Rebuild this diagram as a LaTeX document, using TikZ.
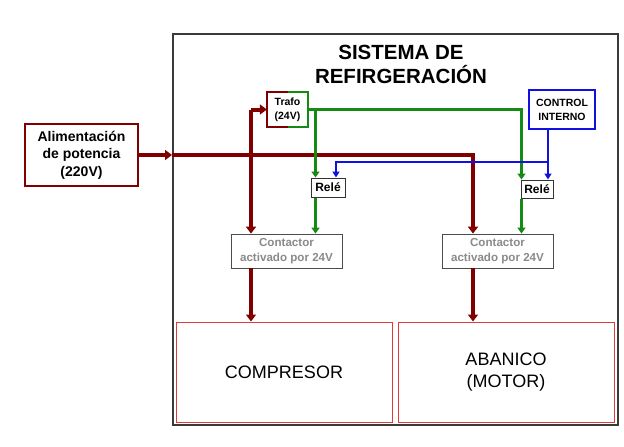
\documentclass[tikz,border=0pt]{standalone}
\usepackage{fontspec}
\setmainfont{Liberation Sans}
\usetikzlibrary{arrows.meta,calc}
\definecolor{dred}{HTML}{800000}
\definecolor{dgreen}{HTML}{158A15}
\definecolor{dblue}{HTML}{1010E0}
\definecolor{lred}{HTML}{E03A3A}
\definecolor{outg}{HTML}{3A3A3A}
\definecolor{txtg}{HTML}{8A8A8A}
\newcommand{\fs}[2]{\fontsize{#1}{#2}\selectfont}
\tikzset{
  box/.style={draw, rectangle, inner sep=0pt, align=center, fill=white},
  redw/.style={draw=dred, line width=4pt},
  greenw/.style={draw=dgreen, line width=3pt},
  bluew/.style={draw=dblue, line width=2pt},
  rtip/.style={-{Triangle[length=7pt,width=10pt]}},
  gtip/.style={-{Triangle[length=6pt,width=8pt]}},
  btip/.style={-{Triangle[length=6pt,width=7pt]}},
}
\begin{document}
\begin{tikzpicture}[x=1pt,y=-1pt]
\useasboundingbox (0,0) rectangle (624,447);
% outer system box
\node[box, draw=outg, line width=2pt, minimum width=445pt, minimum height=391pt] (outer) at (395.5,229.5) {};
\node[align=center, font=\bfseries\fs{20.5}{24}] (title) at (401,64) {SISTEMA DE\\REFIRGERACIÓN};
% boxes
\node[box, draw=dred, line width=2pt, minimum width=113pt, minimum height=62pt, font=\bfseries\fs{14}{17.5}] (alim) at (81.5,155) {Alimentación\\de potencia\\(220V)};
\node[box, draw=none, minimum width=41pt, minimum height=35pt, font=\bfseries\fs{10.5}{14}] (trafo) at (287.5,109.5) {Trafo\\(24V)};
\draw[dred, line width=1.6pt] (trafo.north) -- (trafo.north west) -- (trafo.south west) -- (trafo.south);
\draw[dgreen, line width=1.6pt] (trafo.north) -- (trafo.north east) -- (trafo.south east) -- (trafo.south);
\node[box, draw=dblue, line width=1.6pt, minimum width=66pt, minimum height=39pt, font=\bfseries\fs{10.5}{14}] (ci) at (562,109.5) {CONTROL\\INTERNO};
\node[box, draw=black!80, line width=1pt, minimum width=34pt, minimum height=19pt, font=\bfseries\fs{12}{14}] (r1) at (328,187.5) {Relé};
\node[box, draw=black!80, line width=1pt, minimum width=32pt, minimum height=18pt, font=\bfseries\fs{12}{14}] (r2) at (537,189) {Relé};
\node[box, draw=black!70, line width=0.8pt, minimum width=111pt, minimum height=34pt, text=txtg, font=\bfseries\fs{11.6}{15.5}] (c1) at (286.5,251) {Contactor\\activado por 24V};
\node[box, draw=black!70, line width=0.8pt, minimum width=111pt, minimum height=34pt, text=txtg, font=\bfseries\fs{11.6}{15.5}] (c2) at (497.5,251) {Contactor\\activado por 24V};
\node[box, draw=lred, line width=1pt, minimum width=216pt, minimum height=100pt, font=\fs{18}{22}] (comp) at (284,372) {COMPRESOR};
\node[box, draw=lred, line width=1pt, minimum width=216pt, minimum height=100pt, font=\fs{18}{22}] (aba) at (506,372) {ABANICO\\(MOTOR)};
% coordinates
\coordinate (ein) at (alim.east -| outer.west);
\coordinate (mcorner) at (473,0 |- alim.east);
\coordinate (lt) at (251,0 |- trafo.west);
\coordinate (gcorner) at (521.5,0 |- trafo.east);
\coordinate (g1) at (315.5,0 |- trafo.east);
\coordinate (bcorner) at (548,162);
\coordinate (b1) at (336,162);
% red power lines
\draw[redw, rtip] (alim.east) -- (ein);
\draw[redw, rtip] (ein) -- (mcorner) -- (mcorner |- c2.north);
\draw[redw, rtip] (lt) -- (trafo.west);
\draw[redw, rtip] (lt) -- (lt |- c1.north);
\draw[redw, rtip] (c1.south -| lt) -- (lt |- comp.north);
\draw[redw, rtip] (c2.south -| mcorner) -- (mcorner |- aba.north);
% green control lines
\draw[greenw, gtip] (trafo.east) -- (gcorner) -- (gcorner |- r2.north);
\draw[greenw, gtip] (g1) -- (g1 |- r1.north);
\draw[greenw, gtip] (r1.south -| g1) -- (g1 |- c1.north);
\draw[greenw, gtip] (r2.south -| gcorner) -- (gcorner |- c2.north);
% blue control lines
\draw[bluew, btip] (ci.south -| bcorner) -- (bcorner |- r2.north);
\draw[bluew, btip] (bcorner) -- (b1) -- (b1 |- r1.north);
\end{tikzpicture}
\end{document}
